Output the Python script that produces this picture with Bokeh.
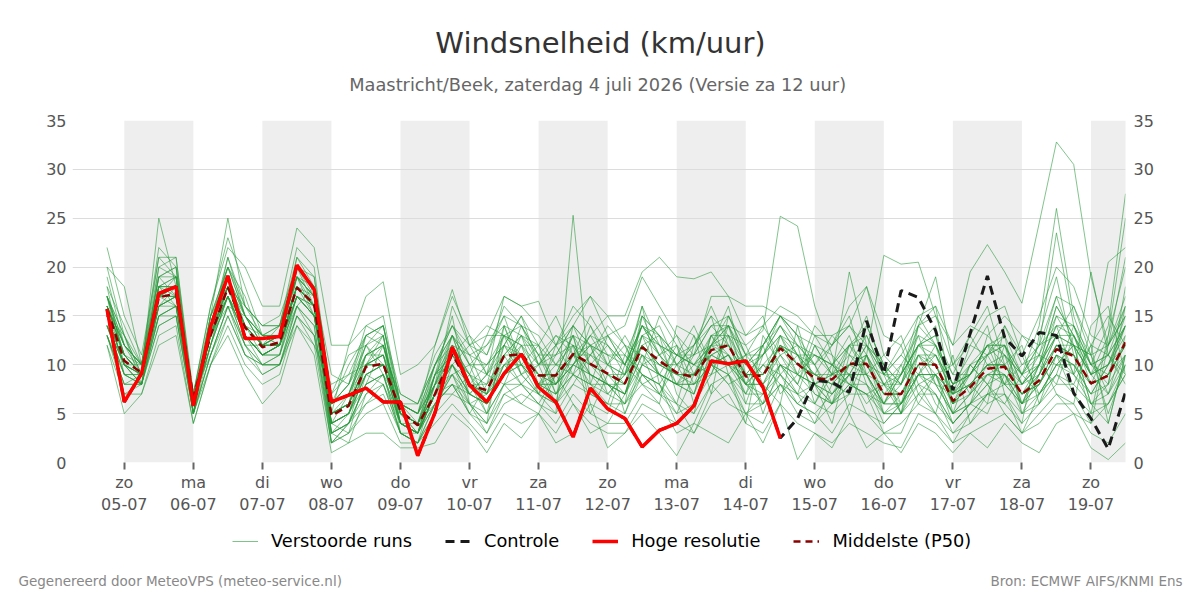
import pandas as pd
from bokeh.plotting import figure
from bokeh.layouts import column
from bokeh.models import Range1d, LinearAxis, FixedTicker, Legend, LegendItem, Label
from bokeh.embed import file_html
from bokeh.resources import INLINE

FONT = "DejaVu Sans"

title_text = "Windsnelheid (km/uur)"
subtitle_text = "Maastricht/Beek, zaterdag  4 juli 2026 (Versie za 12 uur)"
footer_left = "Gegenereerd door MeteoVPS (meteo-service.nl)"
footer_right = "Bron: ECMWF AIFS/KNMI Ens"
legend_labels = ["Verstoorde runs", "Controle", "Hoge resolutie", "Middelste (P50)"]

times = pd.date_range("2026-07-04 18:00", periods=60, freq="6h")
view_start = pd.Timestamp("2026-07-04 06:00")
view_end = pd.Timestamp("2026-07-19 12:00")
day_dates = pd.date_range("2026-07-05", "2026-07-19", freq="D")
day_names = ["zo", "ma", "di", "wo", "do", "vr", "za", "zo", "ma", "di", "wo", "do", "vr", "za", "zo"]
shaded_days = day_dates[::2]
y_ticks = [0, 5, 10, 15, 20, 25, 30, 35]

hres = [15.7, 6.2, 9.1, 17.3, 18, 5.8, 13.9, 19.1, 12.7, 12.7,
        12.9, 20.2, 17.7, 6.2, 6.9, 7.6, 6.2, 6.2, 0.7, 5.1,
        11.8, 7.9, 6.2, 9.1, 11.1, 7.7, 6.2, 2.6, 7.6, 5.5,
        4.5, 1.6, 3.3, 4, 5.8, 10.4, 10.1, 10.4, 7.7, 2.5]

control = hres + [4.5, 8.4, 8.2, 7.2, 14.5, 9.1, 17.6, 16.9, 13.5, 7.4,
                  13.2, 19.1, 12.8, 10.9, 13.3, 13, 7.1, 4.5, 1.4, 7.2]

median = [15.7, 10.4, 9.2, 16.9, 17.3, 6.7, 13, 17.9, 13.8, 11.8,
          12.3, 17.9, 16.2, 4.8, 5.8, 9.8, 10.1, 5.3, 3.8, 7,
          11.1, 7.9, 7.4, 10.9, 11.1, 8.9, 8.9, 11.1, 10.1, 9.1,
          8.1, 11.8, 10.4, 9.2, 8.7, 11.5, 12, 8.8, 8.9, 11.7,
          10.1, 8.6, 8.5, 10.1, 10.1, 7, 7, 10.1, 10, 6.3,
          7.7, 9.6, 9.8, 7, 8.4, 11.6, 10.9, 8.1, 8.9, 12.3]

m01 = [16, 11, 9, 18, 19, 5, 14, 19, 14, 12, 13, 19, 17, 3, 5, 11, 13, 3, 2, 8,
       13, 8, 5, 12, 15, 10, 6, 14, 12, 8, 6, 15, 13, 7, 5, 12, 16, 9, 6, 13,
       12, 6, 10, 13, 8, 4, 6, 12, 14, 5, 6, 11, 13, 5, 9, 15, 12, 6, 8, 16]
m02 = [14, 9, 8, 16, 17, 6, 12, 17, 13, 11, 12, 17, 15, 6, 7, 12, 10, 5, 4, 6,
       9, 10, 9, 8, 12, 12, 7, 9, 14, 11, 5, 10, 15, 12, 8, 9, 13, 6, 11, 15,
       13, 10, 6, 7, 14, 10, 5, 9, 7, 3, 5, 7, 12, 9, 12, 13, 16, 11, 5, 10]
m03 = [17, 12, 10, 19, 20, 6, 13, 21, 15, 13, 12, 21, 18, 4, 3, 9, 8, 4, 3, 9,
       15, 6, 4, 14, 9, 7, 12, 13, 6, 5, 10, 16, 8, 6, 12, 15, 9, 4, 13, 10,
       7, 12, 11, 5, 11, 6, 9, 15, 12, 8, 11, 14, 7, 4, 13, 19, 11, 5, 13, 20]
m04 = [13, 8, 9, 15, 16, 7, 11, 16, 12, 10, 11, 16, 14, 2, 4, 8, 12, 6, 5, 10,
       12, 11, 12, 15, 10, 9, 6, 8, 11, 14, 12, 8, 6, 14, 13, 7, 15, 12, 8, 6,
       14, 8, 4, 11, 15, 9, 12, 7, 9, 10, 13, 16, 10, 12, 6, 11, 7, 4, 12, 15]
m05 = [18, 14, 10, 17, 18, 5, 15, 18, 16, 14, 15, 20, 16, 5, 6, 13, 14, 5, 3, 7,
       10, 7, 6, 9, 13, 8, 11, 12, 5, 9, 7, 13, 12, 10, 7, 13, 10, 11, 5, 10,
       8, 12, 9, 9, 6, 8, 5, 14, 16, 6, 8, 6, 14, 11, 7, 9, 8, 12, 4, 11]
m06 = [15, 10, 8, 20, 21, 6, 14, 20, 17, 12, 13, 18, 17, 3, 2, 7, 9, 3, 2, 6,
       8, 5, 4, 7, 8, 6, 9, 11, 13, 15, 12, 11, 7, 5, 9, 12, 14, 13, 15, 9,
       7, 4, 8, 7, 11, 5, 7, 10, 6, 4, 6, 5, 9, 7, 10, 8, 13, 9, 11, 8]
m07 = [12, 7, 8, 14, 15, 5, 10, 15, 11, 10, 10, 14, 12, 8, 9, 10, 11, 7, 6, 11,
       14, 12, 11, 16, 14, 13, 10, 10, 12, 13, 11, 9, 8, 11, 14, 10, 11, 7, 12, 7,
       9, 14, 12, 15, 9, 11, 13, 8, 5, 11, 4, 7, 8, 13, 11, 7, 6, 14, 16, 9]
m08 = [16, 11, 9, 17, 17, 6, 13, 18, 13, 11, 12, 18, 16, 4, 5, 9, 10, 4, 3, 7,
       11, 8, 7, 11, 11, 9, 9, 11, 10, 9, 8, 12, 10, 9, 9, 11, 12, 9, 9, 12,
       10, 9, 8, 10, 10, 7, 7, 10, 10, 6, 8, 10, 10, 7, 8, 12, 11, 8, 9, 12]
m09 = [20, 13, 10, 22, 20, 7, 16, 23, 18, 13, 14, 22, 20, 6, 8, 14, 15, 6, 5, 12,
       17, 13, 9, 17, 16, 14, 12, 15, 17, 13, 14, 19, 16, 13, 11, 17, 17, 13, 14, 16,
       15, 13, 12, 16, 18, 11, 9, 14, 19, 10, 12, 15, 16, 11, 15, 20, 18, 13, 12, 21]
m10 = [13, 7, 7, 13, 14, 4, 10, 14, 10, 8, 9, 15, 12, 2, 3, 5, 6, 2, 2, 4,
       6, 4, 2, 5, 4, 5, 3, 6, 4, 3, 3, 6, 5, 4, 3, 6, 7, 4, 3, 6,
       4, 3, 2, 4, 3, 2, 1.5, 5, 4, 2, 3, 4, 5, 3, 4, 6, 6, 3, 2, 5]
m11 = [17, 13, 9, 18, 16, 5, 13, 17, 14, 12, 13, 18, 15, 6, 10, 13, 12, 5, 4, 9,
       12, 9, 13, 13, 12, 10, 12, 16, 14, 10, 9, 14, 13, 11, 10, 13, 14, 10, 11, 13,
       11, 9, 12, 14, 12, 8, 9, 12, 13, 7, 9, 12, 13, 9, 11, 15, 14, 10, 9, 14]
m12 = [14, 9, 9, 16, 18, 6, 12, 19, 13, 11, 11, 17, 16, 3, 4, 7, 8, 3, 2, 5,
       7, 6, 3, 6, 7, 6, 4, 7, 5, 4, 4, 7, 6, 3, 4, 8, 6, 5, 4, 8,
       6, 5, 3, 6, 5, 3, 4, 6, 5, 3, 4, 6, 7, 3, 5, 7, 5, 4, 6, 9]
m13 = [22, 15, 11, 21, 19, 7, 15, 20, 15, 13, 13, 19, 18, 5, 7, 12, 13, 5, 4, 10,
       14, 11, 10, 12, 15, 12, 10, 13, 12, 11, 11, 15, 13, 10, 12, 14, 15, 11, 12, 14,
       11, 11, 10, 12, 13, 9, 8, 13, 12, 8, 10, 12, 12, 8, 10, 14, 13, 9, 10, 15]
m14 = [15, 10, 9, 25, 18, 6, 14, 18, 14, 12, 12, 18, 16, 5, 6, 10, 11, 5, 4, 8,
       9, 7, 6, 10, 8, 6, 5, 25.3, 8, 6, 5, 9, 8, 4, 6, 10, 8, 5, 7, 9,
       6, 5, 7, 9, 5, 4, 6, 8, 7, 4, 6, 8, 5, 3, 7, 10, 12, 6, 4, 11]
m15 = [17, 12, 10, 18, 18, 6, 15, 25, 16, 13, 12, 20, 17, 6, 7, 11, 12, 6, 5, 8,
       10, 12, 14, 13, 9, 11, 13, 12, 9, 8, 7, 13, 14, 10, 12, 15, 13, 12, 13.5, 25.2,
       24.2, 16, 11, 9, 12, 10, 6, 9, 11, 8, 9, 12, 8, 6, 10, 13, 9, 7, 10, 14]
m16 = [16, 11, 9, 17, 18, 6, 13, 18, 14, 12, 12, 18, 16, 5, 6, 10, 10, 5, 4, 7,
       13, 10, 6, 9, 14, 11, 7, 10, 12, 7, 9, 16, 12, 8, 7, 13, 11, 9, 11, 14,
       11, 10, 12, 14, 11, 21.2, 20.3, 20.5, 15, 10, 7, 13, 11, 6, 10, 16, 13, 8, 12, 15]
m17 = [15, 10, 9, 16, 17, 6, 13, 17, 13, 11, 12, 17, 16, 4, 5, 9, 10, 4, 3, 7,
       8, 5, 8, 14, 10, 7, 9, 13, 7, 6, 11, 9, 7, 11, 10, 9, 14, 8, 7, 10,
       8, 6, 9, 19.5, 12, 9, 5, 11, 8, 5, 10, 8, 6, 9, 7, 9, 14, 11, 7, 10]
m18 = [16, 12, 10, 19, 19, 7, 14, 19, 15, 13, 13, 19, 17, 6, 7, 11, 12, 6, 5, 9,
       11, 8, 10, 12, 9, 10, 11, 14, 10, 12, 9, 14, 11, 12, 10, 12, 15, 11, 9, 11,
       12, 10, 7, 10, 13, 9, 11, 14, 15, 12, 19.5, 22.3, 19.5, 16.3, 24.5, 32.8, 30.5, 19, 12, 17]
m19 = [14, 10, 9, 16, 17, 6, 12, 18, 13, 11, 11, 17, 15, 5, 6, 9, 10, 5, 4, 7,
       7, 9, 5, 8, 6, 8, 10, 9, 11, 13, 10, 8, 9, 12, 6, 10, 9, 7, 10, 8,
       6, 8, 10, 8, 7, 6, 10, 13, 8, 7, 10, 8, 11, 9, 14, 26, 15, 10, 14, 27.5]
m20 = [17, 11, 9, 18, 18, 6, 14, 19, 15, 12, 13, 19, 17, 4, 5, 10, 11, 5, 3, 8,
       16, 12, 9, 11, 13, 12, 8, 11, 15, 12, 10, 13, 9, 8, 11, 12, 10, 8, 12, 15,
       13, 8, 6, 9, 8, 6, 9, 12, 13, 9, 9, 11, 12, 9, 12, 23.5, 14, 9, 13, 25]
m21 = [15, 10, 9, 17, 17, 6, 13, 18, 14, 12, 12, 18, 16, 5, 6, 10, 10, 5, 4, 7,
       9, 6, 7, 9, 10, 8, 7, 9, 8, 8, 6, 10, 9, 8, 7, 11, 10, 8, 6, 9,
       7, 8, 6, 10, 9, 5, 6, 9, 8, 5, 6, 9, 8, 6, 9, 13, 12, 11, 20.5, 22]
m22 = [13, 8, 8, 15, 16, 5, 11, 16, 12, 10, 10, 16, 14, 3, 4, 8, 9, 4, 3, 6,
       8, 7, 6, 9, 10, 8, 8, 10, 9, 8, 7, 10, 9, 8, 8, 10, 11, 8, 8, 10,
       9, 8, 7, 9, 9, 6, 6, 9, 9, 5, 7, 9, 9, 6, 8, 11, 9, 19.5, 11, 9]
m23 = [12, 5, 7, 12, 13, 4, 10, 13, 9, 6, 8, 14, 11, 1, 2, 3, 3, 1.5, 1.5, 2,
       5, 3.5, 1, 4, 2.5, 5, 2, 3, 6, 1.5, 3, 5, 3, 0.7, 4, 3, 2, 5, 2, 6,
       0.3, 3, 1.5, 5, 1.5, 3, 1, 4, 3, 1, 3, 1.5, 4, 2, 1, 4, 5, 1.5, 0.3, 2]
m24 = [20, 18, 10, 21, 21, 7, 16, 22, 20, 16, 16, 24, 22, 12, 12, 17, 18.5, 9, 10, 12,
       17.7, 12, 13, 17, 16, 16.5, 12, 14, 17, 15, 15, 19.5, 21, 19, 18.8, 19.5, 17, 16, 16, 15,
       14, 13, 13, 14, 18, 13, 12, 15, 16, 12, 14, 13, 15, 13, 12, 17, 16, 12, 11, 16]
m25 = [14, 9, 8, 15, 15, 5, 12, 17, 12, 9, 10, 16, 13, 2, 3, 6, 7, 3, 2, 5,
       10, 6, 5, 8, 9, 7, 6, 9, 8, 7, 6, 9, 8, 5, 6, 9, 10, 7, 7, 10,
       9, 7, 6, 8, 8, 5, 5, 8, 9, 4, 6, 8, 9, 5, 7, 10, 9, 6, 7, 11]
m26 = [16, 12, 10, 18, 19, 6, 14, 20, 15, 13, 14, 20, 18, 9, 8, 12, 14, 7, 6, 10,
       14, 10, 12, 14, 13, 11, 8, 10, 13, 12, 10, 14, 12, 11, 12, 16, 12, 10, 12, 15,
       13, 12, 9, 12, 14, 10, 8, 12, 11, 8, 9, 12, 11, 9, 10, 14, 14, 10, 11, 14]
m27 = [15, 11, 9, 17, 16, 6, 13, 17, 14, 11, 12, 18, 16, 2, 4, 8, 9, 3, 3, 6,
       9, 5, 3, 7, 6, 5, 9, 6, 3, 4, 7, 12, 9, 6, 3, 7, 9, 5, 6, 8,
       5, 4, 6, 8, 7, 3, 3, 7, 5, 2, 5, 7, 6, 4, 6, 9, 7, 5, 6, 10]
m28 = [13, 9, 8, 14, 15, 5, 11, 15, 11, 9, 10, 15, 13, 6, 8, 11, 12, 6, 5, 8,
       12, 9, 6, 11, 8, 10, 12, 9, 7, 10, 13, 10, 11, 8, 9, 10, 8, 9, 11, 13,
       9, 11, 10, 8, 7, 8, 10, 6, 9, 7, 12, 11, 8, 8, 11, 10, 12, 9, 7, 13]
m29 = [17, 13, 9, 19, 20, 6, 14, 21, 16, 14, 14, 21, 19, 7, 9, 13, 14, 6, 4, 9,
       13, 8, 7, 13, 11, 8, 7, 11, 9, 8, 8, 13, 11, 9, 8, 12, 13, 9, 9, 12,
       11, 8, 9, 11, 9, 6, 8, 11, 10, 7, 8, 10, 9, 7, 9, 13, 12, 9, 10, 14]
m30 = [18, 10, 8, 16, 17, 6, 13, 18, 13, 11, 12, 17, 15, 4, 5, 10, 11, 4, 3, 7,
       11, 9, 8, 10, 12, 9, 8, 12, 11, 9, 9, 11, 10, 10, 9, 12, 11, 8, 10, 12,
       9, 8, 9, 10, 11, 8, 7, 9, 9, 7, 8, 9, 10, 7, 8, 11, 10, 8, 9, 11]
m31 = [17, 9, 9, 19, 17, 6, 13, 16, 15, 12, 14, 19, 15, 7, 11, 12, 9, 6, 6, 10,
       13, 11, 7, 12, 10, 12, 15, 11, 8, 13, 10, 14, 11, 9, 13, 10, 9, 11, 14, 11,
       8, 13, 10, 9, 12, 10, 8, 14, 12, 9, 13, 10, 8, 10, 12, 14, 9, 12, 15, 12]
m32 = [15, 13, 8, 17, 19, 5, 15, 19, 13, 10, 11, 19, 17, 3, 4, 10, 12, 4, 3, 9,
       10, 7, 9, 13, 12, 7, 6, 10, 13, 10, 12, 9, 7, 10, 11, 14, 12, 8, 10, 9,
       11, 7, 6, 12, 9, 8, 6, 10, 11, 7, 9, 12, 10, 8, 10, 16, 13, 10, 8, 18]
m33 = [14, 10, 10, 17, 18, 7, 14, 17, 12, 12, 12, 16, 18, 5, 6, 11, 11, 5, 4, 8,
       12, 8, 8, 11, 13, 10, 10, 12, 9, 7, 9, 12, 13, 11, 10, 12, 14, 10, 8, 12,
       10, 11, 9, 8, 11, 7, 9, 12, 10, 6, 10, 11, 12, 6, 8, 11, 10, 7, 10, 13]
m34 = [16, 11, 9, 18, 17, 6, 13, 18, 14, 13, 13, 18, 16, 4, 7, 10, 13, 4, 3, 9,
       11, 9, 7, 9, 11, 8, 9, 13, 10, 8, 7, 11, 9, 8, 10, 11, 10, 9, 9, 13,
       10, 9, 8, 12, 10, 7, 7, 11, 9, 6, 7, 10, 11, 8, 9, 12, 12, 9, 10, 12]
m35 = [19, 12, 10, 20, 19, 6, 15, 20, 16, 14, 14, 20, 19, 6, 8, 13, 14, 6, 5, 10,
       13, 10, 10, 13, 14, 11, 11, 14, 12, 11, 10, 14, 12, 11, 11, 14, 14, 11, 11, 14,
       12, 11, 10, 12, 12, 9, 9, 12, 12, 8, 9, 12, 12, 8, 10, 13, 13, 10, 11, 14]
m36 = [13, 8, 8, 15, 16, 5, 11, 16, 11, 10, 10, 15, 13, 3, 4, 6, 8, 3, 2, 6,
       8, 6, 4, 8, 8, 7, 5, 8, 7, 6, 6, 8, 7, 6, 5, 8, 9, 6, 6, 8,
       7, 6, 5, 7, 7, 5, 5, 7, 7, 4, 6, 7, 7, 5, 6, 8, 8, 6, 6, 9]
m37 = [16, 12, 9, 17, 18, 6, 14, 18, 15, 12, 13, 19, 16, 5, 12, 14, 13, 4, 4, 8,
       11, 13, 11, 15, 14, 10, 13, 11, 12, 10, 8, 15, 11, 13, 9, 13, 13, 10, 12, 15,
       12, 10, 13, 11, 10, 9, 11, 9, 12, 6, 9, 11, 14, 10, 11, 17, 12, 11, 12, 16]
m38 = [14, 10, 8, 16, 16, 6, 12, 17, 13, 11, 12, 17, 15, 4, 5, 8, 9, 4, 3, 7,
       10, 7, 6, 10, 10, 8, 8, 10, 9, 8, 7, 11, 9, 8, 8, 10, 11, 8, 8, 11,
       9, 8, 7, 9, 9, 6, 6, 9, 9, 5, 7, 9, 9, 6, 7, 10, 10, 7, 8, 11]
m39 = [17, 11, 10, 18, 18, 6, 13, 19, 14, 12, 12, 18, 16, 5, 6, 10, 10, 4, 3, 7,
       12, 7, 9, 12, 11, 9, 8, 11, 11, 10, 9, 12, 10, 9, 9, 12, 12, 9, 9, 12,
       11, 9, 9, 10, 11, 8, 8, 11, 11, 7, 8, 10, 10, 7, 9, 12, 11, 8, 9, 12]
m40 = [15, 10, 9, 17, 17, 6, 13, 17, 13, 11, 12, 17, 15, 4, 5, 9, 10, 4, 3, 7,
       10, 8, 7, 10, 11, 9, 9, 11, 10, 9, 8, 12, 10, 9, 9, 11, 12, 9, 9, 12,
       10, 9, 8, 10, 10, 7, 7, 10, 10, 6, 8, 10, 10, 7, 8, 12, 11, 8, 9, 12]

members = [m01, m02, m03, m04, m05, m06, m07, m08, m09, m10,
           m11, m12, m13, m14, m15, m16, m17, m18, m19, m20,
           m21, m22, m23, m24, m25, m26, m27, m28, m29, m30,
           m31, m32, m33, m34, m35, m36, m37, m38, m39, m40]

origin = day_dates[0]


def hours(t):
    return (t - origin) / pd.Timedelta(hours=1)


x = [hours(t) for t in times]
tick_x = [int(hours(d)) for d in day_dates]
tick_labels = {int(hours(d)): f"{n}\n{d.strftime('%d-%m')}" for d, n in zip(day_dates, day_names)}

MEMBER_COLOR = "#27993b"
CTL_STYLE = dict(line_color="#1a1a1a", line_width=3, line_dash="9 6")
HRES_STYLE = dict(line_color="#ff0000", line_width=3.5)
MED_STYLE = dict(line_color="#8b0000", line_width=2.5, line_dash="8 5")


def blank_panel(height):
    f = figure(width=1200, height=height, x_range=Range1d(0, 1200), y_range=Range1d(0, height),
               output_backend="svg", toolbar_location=None, title=None, min_border=0,
               outline_line_color=None, background_fill_color="white", border_fill_color="white",
               frame_align=False)
    f.axis.visible = False
    f.grid.visible = False
    return f


# ---- header ----
header = blank_panel(100)
header.add_layout(Label(x=600, y=58, x_units="screen", y_units="screen", text=title_text,
                        text_font=FONT, text_font_size="29px", text_color="#333333",
                        text_align="center", text_baseline="middle"))
header.add_layout(Label(x=600, y=16, x_units="screen", y_units="screen", text=subtitle_text,
                        text_font=FONT, text_font_size="17.8px", text_color="#666666",
                        text_align="center", text_baseline="middle"))

# ---- main chart ----
p = figure(width=1200, height=420,
           x_range=Range1d(hours(view_start), hours(view_end)),
           y_range=Range1d(0, 35),
           output_backend="svg", toolbar_location=None, title=None,
           min_border_left=72, min_border_right=75, min_border_top=20, min_border_bottom=58,
           outline_line_color=None, background_fill_color="white", border_fill_color="white",
           frame_align=False)

for d in shaded_days:
    p.quad(left=hours(d), right=hours(d + pd.Timedelta(days=1)), bottom=0, top=35,
           fill_color="#eeeeee", line_color=None, level="image")

p.xgrid.grid_line_color = None
p.ygrid.grid_line_color = "#dcdcdc"
p.ygrid.grid_line_width = 1
p.ygrid.ticker = FixedTicker(ticks=y_ticks)

p.yaxis.ticker = FixedTicker(ticks=y_ticks)
right_axis = LinearAxis(ticker=FixedTicker(ticks=y_ticks))
p.add_layout(right_axis, "right")
for ax in [p.yaxis[0], right_axis]:
    ax.axis_line_color = None
    ax.major_tick_line_color = None
    ax.major_tick_out = 0
    ax.major_tick_in = 0
    ax.minor_tick_line_color = None
    ax.minor_tick_out = 0
    ax.major_label_text_font = FONT
    ax.major_label_text_font_size = "16px"
    ax.major_label_text_color = "#555555"
p.yaxis[0].major_label_standoff = 6
right_axis.major_label_standoff = 8

xa = p.xaxis[0]
xa.ticker = FixedTicker(ticks=tick_x)
xa.major_label_overrides = tick_labels
xa.axis_line_color = None
xa.major_tick_line_color = "#666666"
xa.major_tick_line_width = 2
xa.major_tick_in = 0
xa.major_tick_out = 7
xa.minor_tick_line_color = None
xa.major_label_text_font = FONT
xa.major_label_text_font_size = "16px"
xa.major_label_text_color = "#555555"
xa.major_label_standoff = 3

for m in members:
    p.line(x, m, line_color=MEMBER_COLOR, line_alpha=0.58, line_width=1)

p.line(x, median, **MED_STYLE)
p.line(x, control, **CTL_STYLE)
p.line(x[:len(hres)], hres, **HRES_STYLE)

# ---- footer with legend ----
footer = blank_panel(80)
leg_r = [footer.line([0, 1], [-50, -50], line_color="#7cc487", line_width=1),
         footer.line([0, 1], [-50, -50], **CTL_STYLE),
         footer.line([0, 1], [-50, -50], **HRES_STYLE),
         footer.line([0, 1], [-50, -50], line_color="#8b0000", line_width=2.5, line_dash="7 5")]
legend = Legend(items=[LegendItem(label=lab, renderers=[r]) for lab, r in zip(legend_labels, leg_r)],
                orientation="horizontal", location=(232, 49),
                label_text_font=FONT, label_text_font_size="17.8px", label_text_color="#000000",
                glyph_width=26, glyph_height=20, label_standoff=13, spacing=33,
                border_line_color=None, background_fill_alpha=0,
                padding=4, margin=0)
footer.add_layout(legend, "center")
footer.add_layout(Label(x=18, y=20, x_units="screen", y_units="screen", text=footer_left,
                        text_font=FONT, text_font_size="13.5px", text_color="#888888",
                        text_align="left", text_baseline="middle"))
footer.add_layout(Label(x=1182, y=20, x_units="screen", y_units="screen", text=footer_right,
                        text_font=FONT, text_font_size="13.5px", text_color="#888888",
                        text_align="right", text_baseline="middle"))

layout = column(header, p, footer, spacing=0)
open("out.html", "w").write(file_html(layout, INLINE))
